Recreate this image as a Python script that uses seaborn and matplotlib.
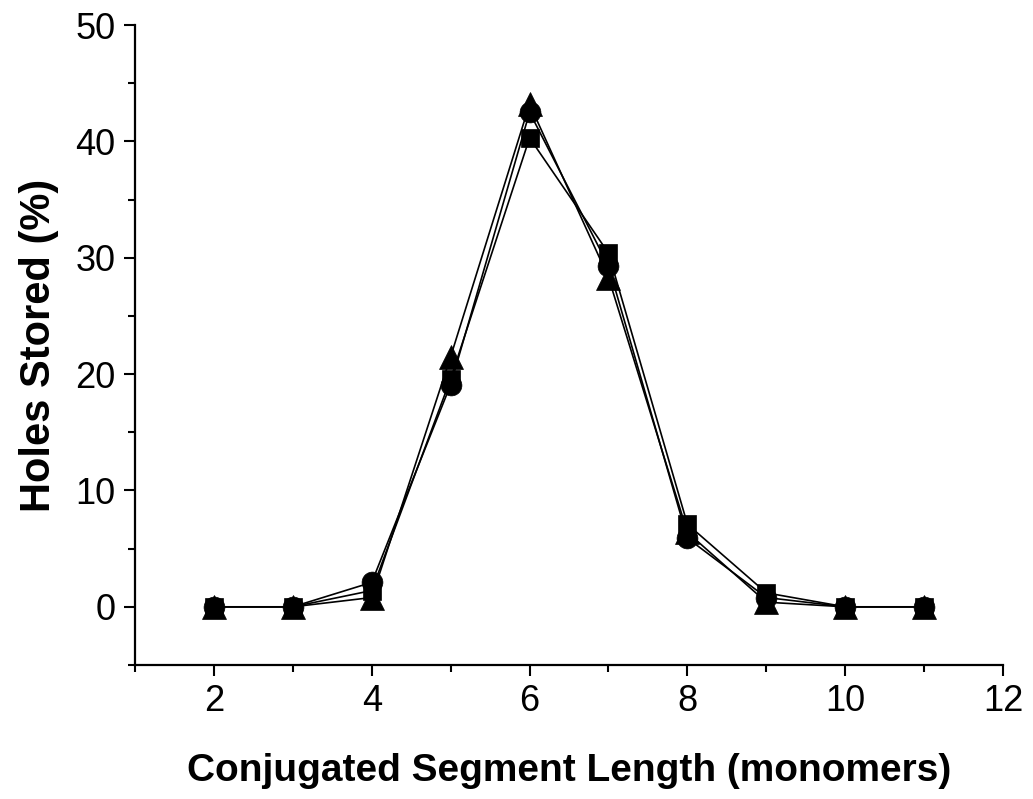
import matplotlib
matplotlib.use("Agg")
import matplotlib.pyplot as plt
import seaborn as sns
import pandas as pd
from matplotlib.ticker import MultipleLocator

length = [2, 3, 4, 5, 6, 7, 8, 9, 10, 11]
squares = [0, 0, 1.4, 19.6, 40.3, 30.4, 7.1, 1.2, 0, 0]
circles = [0, 0, 2.1, 19.1, 42.5, 29.3, 5.9, 0.8, 0, 0]
triangles = [0, 0, 0.8, 21.5, 43.2, 28.3, 6.4, 0.4, 0, 0]

sns.set_theme(style="ticks")
plt.rcParams['font.family'] = ['Liberation Sans', 'DejaVu Sans']
plt.rcParams['text.color'] = 'black'
plt.rcParams['axes.labelcolor'] = 'black'

fig = plt.figure(figsize=(10.33, 7.99), dpi=100)
ax = fig.add_axes([0.1307, 0.1677, 0.971 - 0.1307, 0.9687 - 0.1677])

for vals, mk, ms in [(squares, 's', 13.5), (circles, 'o', 15), (triangles, '^', 17)]:
    df = pd.DataFrame({'x': length, 'y': vals})
    sns.lineplot(data=df, x='x', y='y', ax=ax, color='black', linewidth=1.2,
                 marker=mk, markersize=ms, markeredgecolor='black',
                 markeredgewidth=0.5, markerfacecolor='black')

ax.set_xlim(1, 12)
ax.set_ylim(-5, 50)
ax.xaxis.set_major_locator(MultipleLocator(2))
ax.xaxis.set_minor_locator(MultipleLocator(1))
ax.yaxis.set_major_locator(MultipleLocator(10))
ax.yaxis.set_minor_locator(MultipleLocator(5))
ax.tick_params(axis='both', which='major', direction='out', length=8, width=1.5,
               labelsize=26, color='black', labelcolor='black', pad=6)
ax.tick_params(axis='both', which='minor', direction='out', length=5, width=1.5,
               color='black')
for s in ['top', 'right']:
    ax.spines[s].set_visible(False)
for s in ['left', 'bottom']:
    ax.spines[s].set_linewidth(1.6)
    ax.spines[s].set_color('black')

ax.set_xlabel('Conjugated Segment Length (monomers)', fontsize=28,
              fontweight='bold', labelpad=24, color='black')
ax.set_ylabel('Holes Stored (%)', fontsize=30, fontweight='bold', labelpad=12,
              color='black')

fig.savefig('out.png', dpi=100, facecolor='white')
